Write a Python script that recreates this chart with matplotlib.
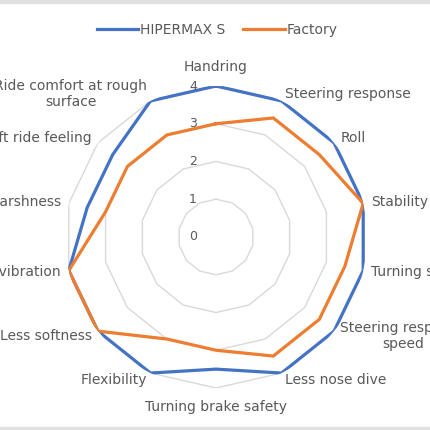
import numpy as np
import matplotlib
matplotlib.use("Agg")
import matplotlib.pyplot as plt
from matplotlib.lines import Line2D

categories = ["Handring", "Steering response", "Roll", "Stability", "Turning stability",
              "Steering response\nspeed", "Less nose dive", "Turning brake safety",
              "Flexibility", "Less softness", "Less vibration", "Less harshness",
              "Soft ride feeling", "Ride comfort at rough\nsurface"]
hipermax = [4, 4, 4, 4, 4, 4, 4, 3.5, 4, 4, 4, 3.5, 3.5, 4]
factory = [3, 3.5, 3.5, 4, 3.5, 3.5, 3.5, 3, 3, 4, 4, 3, 3, 3]
series_names = ["HIPERMAX S", "Factory"]
ring_values = [0, 1, 2, 3, 4]

BLUE = "#4472C4"
ORANGE = "#ED7D31"
GRID = "#D9D9D9"
TXT = "#595959"

plt.rcParams['font.family'] = ['DejaVu Sans']

W = H = 430
fig = plt.figure(figsize=(4.3, 4.3), dpi=100)
cx, cy, R = 216, 237, 151
ax = fig.add_axes([(cx - R) / W, 1 - (cy + R) / H, 2 * R / W, 2 * R / H], projection='polar')
ax.set_theta_zero_location('N')
ax.set_theta_direction(-1)
ax.set_ylim(0, 4)
ax.grid(False)
ax.set_xticks([])
ax.set_yticks([])
ax.spines['polar'].set_visible(False)
ax.patch.set_alpha(0)

n = len(categories)
theta = np.arange(n) * 2 * np.pi / n
theta_c = np.append(theta, theta[0])

# polygon grid rings
for rv in ring_values[1:]:
    ax.plot(theta_c, [rv] * (n + 1), color=GRID, lw=1.0, zorder=1)

# series
ax.plot(theta_c, hipermax + hipermax[:1], color=BLUE, lw=2.3, zorder=3,
        solid_joinstyle='miter')
ax.plot(theta_c, factory + factory[:1], color=ORANGE, lw=2.3, zorder=4,
        solid_joinstyle='miter')

# ring labels
for rv in ring_values:
    ax.annotate(str(rv), xy=(0, rv), xytext=(-23, 0), textcoords='offset pixels',
                ha='center', va='center', fontsize=9, color=TXT, zorder=5)

# category labels
for t, lab in zip(theta, categories):
    s = np.sin(t)
    if abs(s) < 0.1:
        r, ha = 4.5, 'center'
    else:
        r = 4.21
        ha = 'left' if s > 0 else 'right'
    ax.text(t, r, lab, ha=ha, va='center', multialignment='center',
            fontsize=10, color=TXT, clip_on=False)

# legend
handles = [Line2D([0], [0], color=BLUE, lw=2.3), Line2D([0], [0], color=ORANGE, lw=2.3)]
fig.legend(handles, series_names, loc='center', bbox_to_anchor=(217 / W, 1 - 30 / H),
           ncol=2, frameon=False, fontsize=10, handlelength=3.0, handletextpad=0.1,
           columnspacing=1.3, labelcolor=TXT)

# screenshot border bands
fig.patches.append(plt.Rectangle((0, 1 - 3 / H), 1, 3 / H, transform=fig.transFigure,
                                 color="#E0E0E0", zorder=0))
fig.patches.append(plt.Rectangle((0, 0), 1, 3 / H, transform=fig.transFigure,
                                 color="#E0E0E0", zorder=0))

fig.savefig("out.png", dpi=100)
